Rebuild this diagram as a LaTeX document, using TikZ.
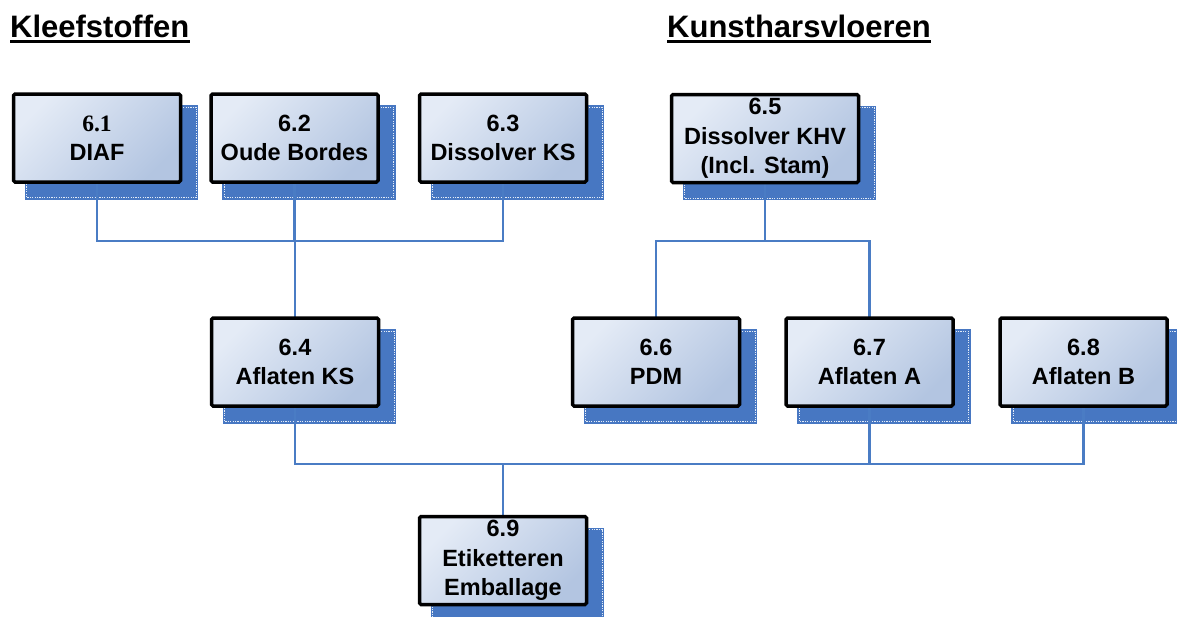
\documentclass[tikz,border=0pt]{standalone}
\usepackage{fontspec}
\setmainfont{Liberation Sans}
\newfontfamily\serifnum{Liberation Serif}
\usetikzlibrary{calc,backgrounds}
\definecolor{shadowblue}{HTML}{4777C2}
\definecolor{connblue}{HTML}{4A7CC4}
\definecolor{boxlight}{HTML}{E4EBF6}
\definecolor{boxdark}{HTML}{B3C5E1}
\tikzset{
  bx/.style={draw=black, line width=3.5pt, rounded corners=1.5pt,
    top color=boxlight, bottom color=boxdark, shading angle=45,
    minimum width=167pt, minimum height=88pt, inner sep=0pt,
    align=center, font=\fontsize{23.5}{29.5}\selectfont\bfseries},
  conn/.style={draw=connblue, line width=2.2pt},
  title/.style={inner sep=0pt, anchor=base west, font=\fontsize{31}{36}\selectfont\bfseries},
  uline/.style={line width=2.6pt, black}
}
\newcommand\boxshadow[1]{%
  \fill[shadowblue] ($(#1.north west)+(13,13)$) rectangle ($(#1.south east)+(16,16)$);
  \draw[white!85!shadowblue, line width=0.6pt, dash pattern=on 1.2pt off 1.2pt] ($(#1.north west)+(15,15)$) rectangle ($(#1.south east)+(14,14)$);
}
\begin{document}
\begin{tikzpicture}[x=1pt,y=-1pt]
\useasboundingbox (0,0) rectangle (1177,616);
% titles
\node[title] (t1) at (10,37) {Kleefstoffen};
\node[title] (t2) at (667,37) {Kunstharsvloeren};
\draw[uline] ($(t1.base west)+(0,4.5)$) -- ($(t1.base east)+(0,4.5)$);
\draw[uline] ($(t2.base west)+(0,4.5)$) -- ($(t2.base east)+(0,4.5)$);
% boxes
\node[bx] (b61) at (97,138) {{\serifnum\bfseries 6.1}\\DIAF};
\node[bx] (b62) at (294.5,138) {6.2\\Oude Bordes};
\node[bx] (b63) at (503,138) {6.3\\Dissolver KS};
\node[bx, minimum width=187pt] (b65) at (765,138.5) {6.5\\Dissolver KHV\\(Incl. Stam)};
\node[bx] (b64) at (295,362) {6.4\\Aflaten KS};
\node[bx] (b66) at (656,362) {6.6\\PDM};
\node[bx] (b67) at (869.5,362) {6.7\\Aflaten A};
\node[bx] (b68) at (1083.5,362) {6.8\\Aflaten B};
\node[bx] (b69) at (503,560.5) {6.9\\Etiketteren\\Emballage};
% junctions
\coordinate (j1) at (295,241);
\coordinate (j2) at (765,241);
\coordinate (j3) at (503,464);
\begin{scope}[on background layer]
  \boxshadow{b61}\boxshadow{b62}\boxshadow{b63}\boxshadow{b65}
  \boxshadow{b64}\boxshadow{b66}\boxshadow{b67}\boxshadow{b68}\boxshadow{b69}
  % top-left group
  \draw[conn] (b61.center) |- (j1);
  \draw[conn] (b63.center) |- (j1);
  \draw[conn] (b62.center) |- (j1) -- (b64.center);
  % top-right group
  \draw[conn] (b65.center) -- (j2);
  \draw[conn] (b66.center) |- (j2);
  \draw[conn] (b67.center) |- (j2);
  % bottom group
  \draw[conn] (b64.center) |- (j3);
  \draw[conn] (b67.center) |- (j3);
  \draw[conn] (b68.center) |- (j3);
  \draw[conn] (j3) -- (b69.center);
\end{scope}
\end{tikzpicture}
\end{document}
